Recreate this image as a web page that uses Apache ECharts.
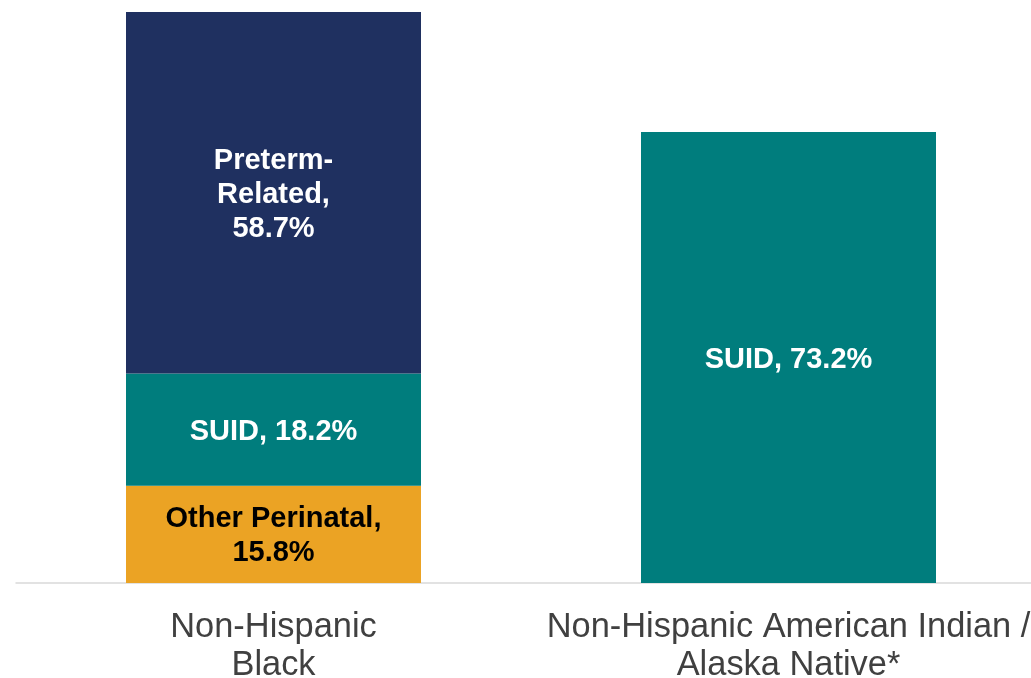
<!DOCTYPE html>
<html>
<head>
<meta charset="utf-8">
<script src="https://cdn.jsdelivr.net/npm/echarts@6/dist/echarts.min.js"></script>
<style>
  html, body { margin: 0; padding: 0; background: #fff; }
  #chart { width: 1031px; height: 678px; }
</style>
</head>
<body>
<div id="chart"></div>
<script>
// categories
var groups = ["Non-Hispanic\nBlack", "Non-Hispanic American Indian /\nAlaska Native*"];
// stacked from bottom to top
var otherPerinatal = [15.8, null];
var suid = [18.2, 73.2];
var pretermRelated = [58.7, null];

var chart = echarts.init(document.getElementById("chart"));

// top of the tallest stack
var sums = groups.map(function (g, i) {
  return (otherPerinatal[i] || 0) + (suid[i] || 0) + (pretermRelated[i] || 0);
});
var yMax = Math.max.apply(Math, sums);

var labelFont = {
  show: true,
  position: "inside",
  offset: [0, 2],
  fontFamily: "Liberation Sans, Arial, sans-serif",
  fontWeight: "bold",
  fontSize: 29,
  lineHeight: 34,
  align: "center",
};

var option = {
  animation: false,
  grid: { left: 16, right: -15, top: 12, bottom: 95, outerBoundsMode: "none" },
  xAxis: {
    type: "category",
    data: groups,
    axisLine: { lineStyle: { color: "#d9d9d9", width: 1.5 } },
    axisTick: { show: false },
    axisLabel: {
      color: "#404040",
      fontFamily: "Liberation Sans, Arial, sans-serif",
      fontSize: 34.4,
      lineHeight: 38,
      margin: 26,
      interval: 0,
    },
  },
  yAxis: { type: "value", min: 0, max: yMax, show: false },
  series: [
    {
      name: "Other Perinatal",
      type: "bar",
      stack: "total",
      barWidth: 295,
      data: otherPerinatal,
      itemStyle: { color: "#eba324" },
      label: Object.assign({}, labelFont, {
        color: "#000000",
        formatter: "Other Perinatal,\n{c}%",
      }),
    },
    {
      name: "SUID",
      type: "bar",
      stack: "total",
      barWidth: 295,
      data: suid,
      itemStyle: { color: "#007d7d" },
      label: Object.assign({}, labelFont, {
        color: "#ffffff",
        formatter: "SUID, {c}%",
      }),
    },
    {
      name: "Preterm-Related",
      type: "bar",
      stack: "total",
      barWidth: 295,
      data: pretermRelated,
      itemStyle: { color: "#1f3060" },
      label: Object.assign({}, labelFont, {
        color: "#ffffff",
        formatter: "Preterm-\nRelated,\n{c}%",
      }),
    },
  ],
};
chart.setOption(option);
</script>
</body>
</html>
